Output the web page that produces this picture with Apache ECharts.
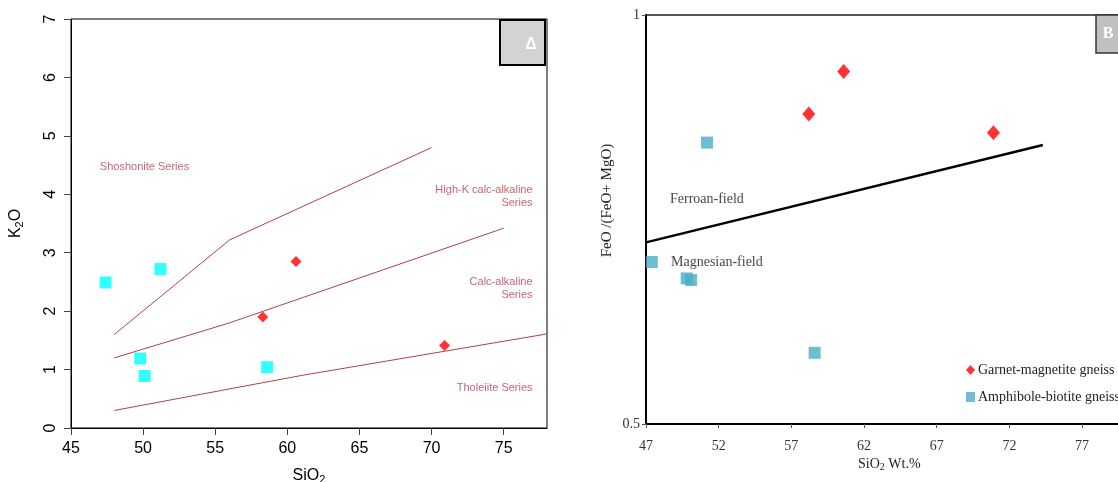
<!DOCTYPE html>
<html>
<head>
<meta charset="utf-8">
<script src="https://cdn.jsdelivr.net/npm/echarts@6/dist/echarts.min.js"></script>
<style>html,body{margin:0;padding:0;background:#fff}#c{width:1118px;height:482px}</style>
</head>
<body>
<div id="c"></div>
<script>
// ---- Panel A : K2O vs SiO2 ----
const xTicksA = [45, 50, 55, 60, 65, 70, 75];
const yTicksA = [0, 1, 2, 3, 4, 5, 6, 7];
const amphA = [[47.4, 2.49], [51.2, 2.72], [49.8, 1.19], [50.1, 0.89], [58.6, 1.04]];
const garnetA = [[58.3, 1.90], [60.6, 2.85], [70.9, 1.41]];
const shoshoniteLine = [[48, 1.6], [56, 3.22], [70, 4.8]];
const highKLine = [[48, 1.2], [56, 1.8], [75, 3.42]];
const tholeiiteLine = [[48, 0.3], [61, 0.9], [78, 1.61]];
const labelsA = [
  {text: 'Shoshonite Series', at: [47.0, 4.47], align: 'left'},
  {text: 'High-K calc-alkaline\nSeries', at: [77.0, 3.96], align: 'right'},
  {text: 'Calc-alkaline\nSeries', at: [77.0, 2.39], align: 'right'},
  {text: 'Tholeiite Series', at: [77.0, 0.685], align: 'right'}
];

// ---- Panel B : FeO/(FeO+MgO) vs SiO2 ----
const xTicksB = [47, 52, 57, 62, 67, 72, 77];
const yTicksB = [0.5, 1];
const amphB = [[51.2, 0.844], [47.4, 0.698], [49.8, 0.678], [50.1, 0.676], [58.6, 0.587]];
const garnetB = [[58.2, 0.879], [60.6, 0.931], [70.9, 0.856]];
const ferroanLine = [[47, 0.722], [74.3, 0.841]];
const labelsB = [
  {text: 'Ferroan-field', at: [48.65, 0.775]},
  {text: 'Magnesian-field', at: [48.72, 0.698]}
];
const seriesNames = ['Garnet-magnetite gneiss', 'Amphibole-biotite gneiss'];

const sans = 'Liberation Sans, Arial, sans-serif';
const serif = 'Liberation Serif, Times New Roman, serif';
const labCol = '#b83c4c';
const lineCol = '#b0404c';

const chart = echarts.init(document.getElementById('c'), null, {renderer: 'canvas'});

function labelSeries(list, xi, yi, font, size, color) {
  return {
    type: 'scatter', xAxisIndex: xi, yAxisIndex: yi, symbolSize: 0, silent: true,
    data: list.map(l => ({value: l.at, label: {formatter: l.text, align: l.align || 'left'}})),
    label: {show: true, position: 'inside', offset: [0, 0], color: color, fontFamily: font, fontSize: size, lineHeight: size + 2, verticalAlign: 'middle'},
    z: 5
  };
}

chart.setOption({
  animation: false,
  grid: [
    {left: 71, top: 19, width: 476, height: 409, outerBoundsMode: 'none', containLabel: false, show: true, borderColor: '#000', borderWidth: 1, backgroundColor: 'transparent'},
    {left: 646, top: 15, width: 487, height: 409, outerBoundsMode: 'none', containLabel: false, show: true, borderColor: '#222', borderWidth: 1.5, backgroundColor: 'transparent'}
  ],
  xAxis: [
    {gridIndex: 0, type: 'value', min: 45, max: 78, splitLine: {show: false},
     axisLine: {show: true, onZero: false, lineStyle: {color: '#000', width: 1}},
     axisTick: {show: true, length: 7, customValues: xTicksA, lineStyle: {color: '#444'}},
     axisLabel: {customValues: xTicksA, margin: 13, fontSize: 16, color: '#000', fontFamily: sans},
     name: 'SiO{sub|2}', nameLocation: 'middle', nameGap: 38,
     nameTextStyle: {fontSize: 16, fontFamily: sans, color: '#000', rich: {sub: {fontSize: 11, verticalAlign: 'bottom', padding: [8, 0, 0, 0], fontFamily: sans}}}},
    {gridIndex: 1, type: 'value', min: 47, max: 80.5, splitLine: {show: false},
     axisLine: {show: true, onZero: false, lineStyle: {color: '#000', width: 2}},
     axisTick: {show: true, length: 4, customValues: xTicksB, lineStyle: {color: '#555'}},
     axisLabel: {customValues: xTicksB, margin: 15, fontSize: 14, color: '#333', fontFamily: serif},
     name: 'SiO{sub|2} Wt.%', nameLocation: 'start', nameGap: 0,
     nameTextStyle: {fontSize: 14, fontFamily: serif, color: '#222', align: 'left', verticalAlign: 'top', padding: [32, 0, 0, 212], rich: {sub: {fontSize: 10, fontFamily: serif, verticalAlign: 'bottom', padding: [6, 0, 0, 0]}}}}
  ],
  yAxis: [
    {gridIndex: 0, type: 'value', min: 0, max: 7, splitLine: {show: false},
     axisLine: {show: true, onZero: false, lineStyle: {color: '#000', width: 1}},
     axisTick: {show: true, length: 7, customValues: yTicksA, lineStyle: {color: '#444'}},
     axisLabel: {customValues: yTicksA, rotate: 90, margin: 12, fontSize: 16, color: '#000', fontFamily: sans},
     name: 'K{sub|2}O', nameLocation: 'middle', nameGap: 46,
     nameTextStyle: {fontSize: 16, fontFamily: sans, color: '#000', rich: {sub: {fontSize: 11, fontFamily: sans, verticalAlign: 'bottom', padding: [8, 0, 0, 0]}}}},
    {gridIndex: 1, type: 'value', min: 0.5, max: 1, splitLine: {show: false},
     axisLine: {show: true, onZero: false, lineStyle: {color: '#000', width: 2}},
     axisTick: {show: true, length: 4, customValues: yTicksB, lineStyle: {color: '#555'}},
     axisLabel: {customValues: yTicksB, margin: 6, fontSize: 14, color: '#333', fontFamily: serif},
     name: 'FeO /(FeO+ MgO)', nameLocation: 'middle', nameGap: 31,
     nameTextStyle: {fontSize: 15, fontFamily: serif, color: '#222', padding: [0, 0, 0, 38]}}
  ],
  legend: {
    left: 961, top: 357, orient: 'vertical', itemGap: 11, itemWidth: 9, itemHeight: 10,
    selectedMode: false,
    data: [{name: seriesNames[0], icon: 'diamond'}, {name: seriesNames[1], icon: 'rect'}],
    textStyle: {fontFamily: serif, fontSize: 14, color: '#222', lineHeight: 16, padding: [0, 0, 0, -2]}
  },
  series: [
    {type: 'line', xAxisIndex: 0, yAxisIndex: 0, data: shoshoniteLine, symbol: 'none', lineStyle: {color: lineCol, width: 1}, silent: true},
    {type: 'line', xAxisIndex: 0, yAxisIndex: 0, data: highKLine, symbol: 'none', lineStyle: {color: lineCol, width: 1}, silent: true},
    {type: 'line', xAxisIndex: 0, yAxisIndex: 0, data: tholeiiteLine, symbol: 'none', lineStyle: {color: lineCol, width: 1}, silent: true},
    {name: 'A-amph', type: 'scatter', xAxisIndex: 0, yAxisIndex: 0, data: amphA, symbol: 'rect', symbolSize: 12, itemStyle: {color: '#00ffff'}},
    {name: 'A-garnet', type: 'scatter', xAxisIndex: 0, yAxisIndex: 0, data: garnetA, symbol: 'diamond', symbolSize: 11, itemStyle: {color: '#ff0000'}},
    labelSeries(labelsA, 0, 0, sans, 11, labCol),
    {type: 'line', xAxisIndex: 1, yAxisIndex: 1, data: ferroanLine, symbol: 'none', lineStyle: {color: '#000', width: 2.5}, silent: true},
    {name: seriesNames[1], type: 'scatter', xAxisIndex: 1, yAxisIndex: 1, data: amphB, symbol: 'rect', symbolSize: 12, itemStyle: {color: '#4aacc6'}},
    {name: seriesNames[0], type: 'scatter', xAxisIndex: 1, yAxisIndex: 1, data: garnetB, symbol: 'diamond', symbolSize: [13, 15], itemStyle: {color: '#ff0000'}},
    labelSeries(labelsB, 1, 1, serif, 14, '#111')
  ],
  graphic: [
    {type: 'rect', shape: {x: 500, y: 20, width: 45, height: 45}, style: {fill: '#d3d3d3', stroke: '#000', lineWidth: 2}, z: 10},
    {type: 'text', x: 531, y: 45, style: {text: 'Δ', fill: '#fff', font: 'bold 16px ' + sans, align: 'center', verticalAlign: 'middle'}, z: 11},
    {type: 'rect', shape: {x: 1096, y: 15, width: 40, height: 38}, style: {fill: '#c0c0c0', stroke: '#333', lineWidth: 1.5}, z: 10},
    {type: 'text', x: 1108, y: 34, style: {text: 'B', fill: '#fff', font: 'bold 16px ' + serif, align: 'center', verticalAlign: 'middle'}, z: 11}
  ]
});
</script>
</body>
</html>
